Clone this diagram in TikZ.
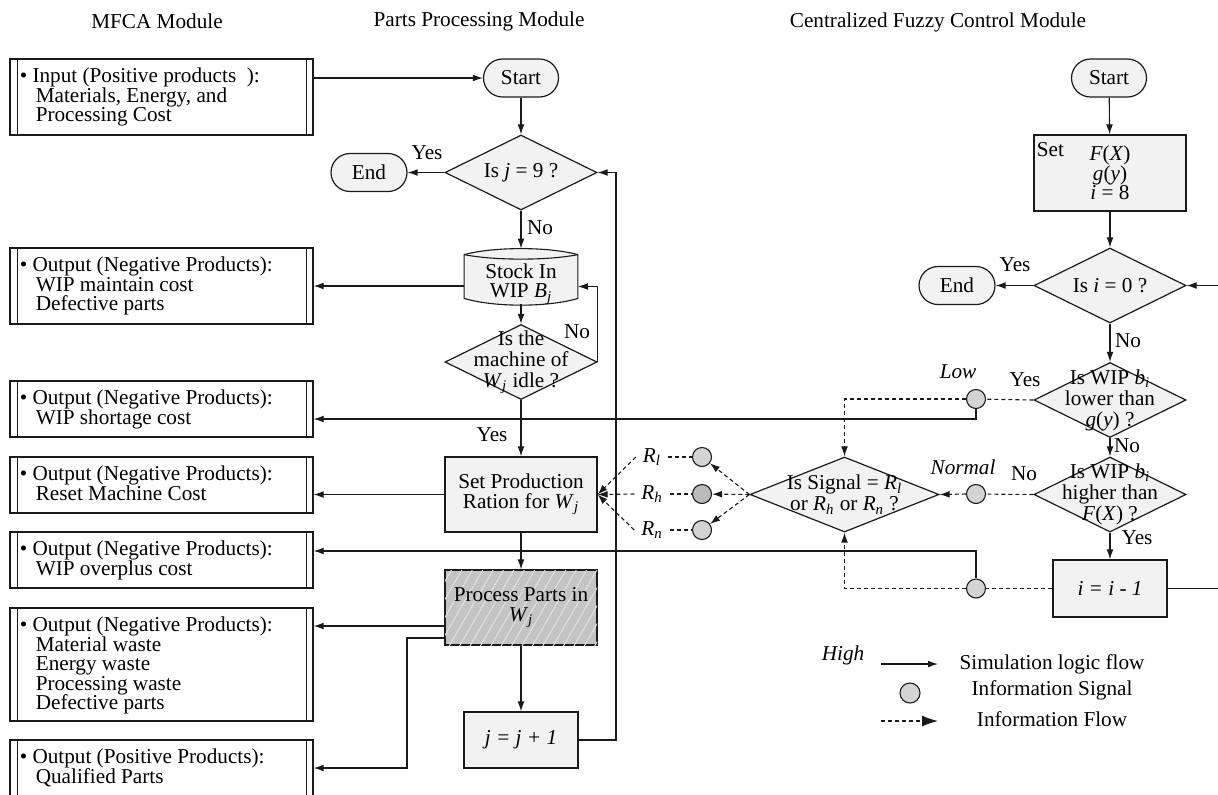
\documentclass[tikz,border=0pt]{standalone}
\usepackage{fontspec}
\setmainfont{Liberation Serif}
\usepackage{tikz}
\usepackage{xcolor}
\usetikzlibrary{shapes.geometric,arrows.meta,patterns.meta}
\definecolor{vdarkgray}{HTML}{1a1a1a}
\definecolor{vlightgray}{HTML}{f2f2f2}
\definecolor{vcircgray}{HTML}{d4d4d4}
\definecolor{vdotgray}{HTML}{bababa}
\definecolor{vprocgray}{HTML}{c4c4c4}
\definecolor{vhatch}{HTML}{e2e2e2}
\newcommand{\vsub}[2]{\textit{#1}\textsubscript{\textit{#2}}}

\tikzset{
	link/.style={draw=vdarkgray, line width=.55pt},
	flow/.style={link, -{Latex[length=5pt,width=3.4pt]}},
	info/.style={link, dash pattern=on 2pt off 1.5pt},
	infoflow/.style={flow, dash pattern=on 2pt off 1.5pt},
	mfcabox/.style={draw=vdarkgray, line width=.6pt, fill=white, minimum width=151.5pt, inner sep=0pt},
	mfcatext/.style={anchor=north west, align=left, inner sep=0pt, xshift=5pt, yshift=-4.5pt},
	stepbox/.style={draw=vdarkgray, line width=.6pt, fill=vlightgray, inner sep=0pt, align=center},
	term/.style={draw=vdarkgray, line width=.6pt, fill=vlightgray, rounded corners=9.5pt, minimum width=37.5pt, minimum height=19pt, inner sep=0pt},
	decision/.style={diamond, draw=vdarkgray, line width=.6pt, fill=vlightgray, inner sep=0pt, minimum width=76pt, minimum height=37.5pt},
	dectext/.style={align=center, inner sep=0pt, font=\fontsize{10.6pt}{10.5pt}\selectfont},
	signal/.style={circle, draw=vdarkgray, line width=.55pt, fill=vcircgray, minimum size=9.5pt, inner sep=0pt},
}

\begin{document}
\begin{tikzpicture}[x=0.5pt, y=-0.5pt, font=\fontsize{10.6pt}{9.8pt}\selectfont]
	\useasboundingbox (0,0) rectangle (1218,794);

	% module titles
	\node (tmfca) at (157,21) {MFCA Module};
	\node (tparts) at (479,21) {Parts Processing Module};
	\node (tfuzzy) at (938,22) {Centralized Fuzzy Control Module};

	% MFCA module
	\node[mfcabox, minimum height=38pt, label={[name=int, mfcatext]north west:{\textbullet\ Input (Positive products\ \ ):\\\hspace*{8pt}Materials, Energy, and\\\hspace*{8pt}Processing Cost}}] (in) at (161.5,97) {};
	\node[mfcabox, minimum height=38pt, label={[name=o1t, mfcatext]north west:{\textbullet\ Output (Negative Products):\\\hspace*{8pt}WIP maintain cost\\\hspace*{8pt}Defective parts}}] (o1) at (161.5,286) {};
	\node[mfcabox, minimum height=28pt, label={[name=o2t, mfcatext]north west:{\textbullet\ Output (Negative Products):\\\hspace*{8pt}WIP shortage cost}}] (o2) at (161.5,409) {};
	\node[mfcabox, minimum height=28pt, label={[name=o3t, mfcatext]north west:{\textbullet\ Output (Negative Products):\\\hspace*{8pt}Reset Machine Cost}}] (o3) at (161.5,485) {};
	\node[mfcabox, minimum height=28pt, label={[name=o4t, mfcatext]north west:{\textbullet\ Output (Negative Products):\\\hspace*{8pt}WIP overplus cost}}] (o4) at (161.5,560) {};
	\node[mfcabox, minimum height=56.5pt, label={[name=o5t, mfcatext]north west:{\textbullet\ Output (Negative Products):\\\hspace*{8pt}Material waste\\\hspace*{8pt}Energy waste\\\hspace*{8pt}Processing waste\\\hspace*{8pt}Defective parts}}] (o5) at (161.5,664.5) {};
	\node[mfcabox, minimum height=28pt, label={[name=o6t, mfcatext]north west:{\textbullet\ Output (Positive Products):\\\hspace*{8pt}Qualified Parts}}] (o6) at (161.5,768) {};
	\draw[link] ([xshift=4pt]in.north west) -- ([xshift=4pt]in.south west) ([xshift=-3.5pt]in.north east) -- ([xshift=-3.5pt]in.south east);
	\draw[link] ([xshift=4pt]o1.north west) -- ([xshift=4pt]o1.south west) ([xshift=-3.5pt]o1.north east) -- ([xshift=-3.5pt]o1.south east);
	\draw[link] ([xshift=4pt]o2.north west) -- ([xshift=4pt]o2.south west) ([xshift=-3.5pt]o2.north east) -- ([xshift=-3.5pt]o2.south east);
	\draw[link] ([xshift=4pt]o3.north west) -- ([xshift=4pt]o3.south west) ([xshift=-3.5pt]o3.north east) -- ([xshift=-3.5pt]o3.south east);
	\draw[link] ([xshift=4pt]o4.north west) -- ([xshift=4pt]o4.south west) ([xshift=-3.5pt]o4.north east) -- ([xshift=-3.5pt]o4.south east);
	\draw[link] ([xshift=4pt]o5.north west) -- ([xshift=4pt]o5.south west) ([xshift=-3.5pt]o5.north east) -- ([xshift=-3.5pt]o5.south east);
	\draw[link] ([xshift=4pt]o6.north west) -- ([xshift=4pt]o6.south west) ([xshift=-3.5pt]o6.north east) -- ([xshift=-3.5pt]o6.south east);

	% parts processing module
	\node[term] (start1) at (521,78) {Start};
	\node[decision, label={[name=dec1t, dectext]center:{Is \textit{j} = 9 ?}}] (dec1) at (521,172.5) {};
	\node[term, minimum width=38pt] (end1) at (369,172.5) {End};
	\node[minimum width=56.5pt, minimum height=21.5pt, inner sep=0pt] (stock) at (521,276.5) {};
	\draw[link, fill=vlightgray] (stock.north west) .. controls +(30,-8) and +(-30,-8) .. (stock.north east) -- (stock.south east) .. controls +(-30,9) and +(30,9) .. (stock.south west) -- cycle;
	\draw[link] (stock.north west) .. controls +(30,6) and +(-30,6) .. (stock.north east);
	\node[align=center] (stockt) at (521,284) {Stock In\\WIP \vsub{B}{j}};
	\node[decision, label={[name=dec2t, dectext]center:{Is the\\machine of\\\vsub{W}{j} idle ?}}] (dec2) at (521,362) {};
	\node[stepbox, minimum width=76pt, minimum height=37.5pt] (setprod) at (521,494.5) {Set Production\\Ration for \vsub{W}{j}};
	\node[stepbox, fill=vprocgray, minimum width=76pt, minimum height=37.5pt, postaction={pattern={Lines[angle=60,distance=4.5pt,line width=.5pt]}, pattern color=vhatch}] (proc) at (521,607.5) {Process Parts in\\\vsub{W}{j}};
	\node[stepbox, minimum width=57pt, minimum height=28pt] (jbox) at (521,740) {\textit{j = j + 1}};
	\coordinate (jloop) at (616,172.5);
	\coordinate (qx) at (407,768);

	% centralized fuzzy control module
	\node[term] (start2) at (1109,78) {Start};
	\node[stepbox, minimum width=76pt, minimum height=38pt, label={[name=sett, anchor=north west, inner sep=0pt, xshift=1.5pt, yshift=-4pt]north west:Set}] (setf) at (1110,173) {\textit{F}(\textit{X})\\\textit{g}(\textit{y})\\\textit{i} = 8};
	\node[decision, label={[name=dec0t, dectext]center:{Is \textit{i} = 0 ?}}] (dec0) at (1110,285.5) {};
	\node[term, minimum width=38pt] (end2) at (957,285.5) {End};
	\node[decision, label={[name=lowt, dectext]center:{Is WIP \vsub{b}{i}\\lower than\\\textit{g}(\textit{y}) ?}}] (low) at (1110,400) {};
	\node[decision, label={[name=hight, dectext]center:{Is WIP \vsub{b}{i}\\higher than\\\textit{F}(\textit{X}) ?}}] (high) at (1110,494.5) {};
	\node[stepbox, minimum width=57pt, minimum height=28.5pt] (iminus) at (1110,588.5) {\textit{i = i - 1}};
	\coordinate (iloop) at (1236,285.5);
	\node[decision, minimum width=94.5pt, label={[name=sigt, dectext]center:{Is Signal = \vsub{R}{l}\\or \vsub{R}{h} or \vsub{R}{n} ?}}] (sig) at (844.5,494.5) {};

	% information signals
	\node[signal] (lowc) at (976,399) {};
	\node[signal] (normc) at (976,494) {};
	\node[signal] (highc) at (976,588.5) {};
	\node[signal] (rlc) at (702,457) {};
	\node[signal, fill=vdotgray] (rhc) at (702,494) {};
	\node[signal] (rnc) at (702,530) {};
	\node (rl) at (652,457) {\vsub{R}{l}};
	\node (rh) at (652,494) {\vsub{R}{h}};
	\node (rn) at (652,530) {\vsub{R}{n}};

	% branch labels
	\node (yes1) at (427,153) {Yes};
	\node (no1) at (540,228) {No};
	\node (no2) at (577,332) {No};
	\node (yes2) at (492,435) {Yes};
	\node (yes3) at (1015,265) {Yes};
	\node (no3) at (1128,341) {No};
	\node (yes4) at (1025,380) {Yes};
	\node (lowl) at (958,372) {\textit{Low}};
	\node (no4) at (1127,446) {No};
	\node (norml) at (963,467) {\textit{Normal}};
	\node (no5) at (1024,474) {No};
	\node (yes5) at (1137,538) {Yes};
	\node (highl) at (843,655) {\textit{High}};

	% simulation logic flow
	\draw[flow] (start1.west -| in.east) -- (start1.west);
	\draw[flow] (start1) -- (dec1);
	\draw[flow] (dec1) -- (end1);
	\draw[flow] (dec1) -- ([yshift=3pt]stock.north);
	\draw[flow] (o1.east -| stock.west) -- (o1.east);
	\draw[flow] ([yshift=-3pt]stock.south) -- (dec2);
	\draw[flow] (dec2.east) |- ([yshift=-5pt]stock.east);
	\draw[flow] (dec2) -- (setprod);
	\draw[flow] (setprod.west) -- (setprod.west -| o3.east);
	\draw[flow] (setprod) -- (proc);
	\draw[flow] ([yshift=-9.25pt]proc.west) -- ([yshift=-9.25pt]proc.west -| o5.east);
	\draw[flow] ([yshift=-15.25pt]proc.west) -| (qx) -- (qx -| o6.east);
	\draw[flow] (proc) -- (jbox);
	\draw[flow] (jbox.east) -| (jloop) -- (dec1.east);
	\draw[flow] (start2) -- (setf);
	\draw[flow] (setf) -- (dec0);
	\draw[flow] (dec0) -- (end2);
	\draw[flow] (dec0) -- (low);
	\draw[flow] (low) -- (high);
	\draw[flow] (high) -- (iminus);
	\draw[flow] (iminus.east) -| (iloop) -- (dec0.east);
	\draw[flow] (lowc.south) |- ([yshift=-5pt]o2.east);
	\draw[flow] (highc.north) |- ([yshift=4.5pt]o4.east);

	% information flow
	\draw[info] (low.west) -- (lowc);
	\draw[infoflow] (lowc.west) -| (sig.north);
	\draw[info] (high.west) -- (normc);
	\draw[infoflow] (normc.west) -- (sig.east);
	\draw[info] (iminus.west) -- (highc);
	\draw[infoflow] (highc.west) -| (sig.south);
	\draw[infoflow] (sig.west) -- (rlc);
	\draw[infoflow] (sig.west) -- (rhc);
	\draw[infoflow] (sig.west) -- (rnc);
	\draw[info] (rl) -- (rlc);
	\draw[info] (rh) -- (rhc);
	\draw[info] (rn) -- (rnc);
	\draw[infoflow] (rl.west) -- (setprod.east);
	\draw[infoflow] (rh.west) -- (setprod.east);
	\draw[infoflow] (rn.west) -- (setprod.east);

	% legend
	\coordinate (lg1a) at (881,664);
	\coordinate (lg1b) at (938,664);
	\draw[flow] (lg1a) -- (lg1b);
	\node (lg1t) at (1052,664) {Simulation logic flow};
	\node[signal, minimum size=10pt] (lgc) at (910,693) {};
	\node (lg2t) at (1052,690) {Information Signal};
	\coordinate (lg3a) at (881,721);
	\coordinate (lg3b) at (938,721);
	\draw[info, -{Latex[length=8pt,width=5.5pt]}] (lg3a) -- (lg3b);
	\node (lg3t) at (1052,719) {Information Flow};
\end{tikzpicture}
\end{document}
